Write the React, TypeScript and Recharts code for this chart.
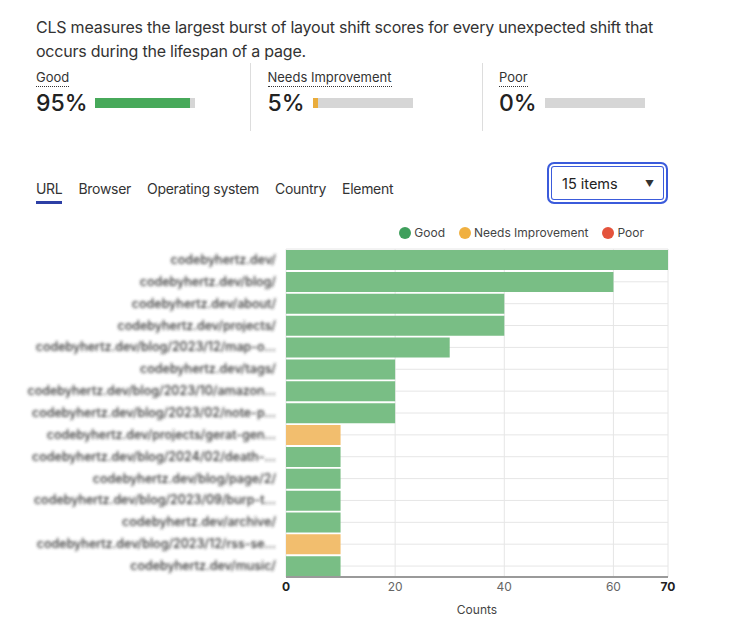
import { Bar, BarChart, CartesianGrid, Legend, XAxis, YAxis } from "recharts";

const urls = [
  "codebyhertz.dev/",
  "codebyhertz.dev/blog/",
  "codebyhertz.dev/about/",
  "codebyhertz.dev/projects/",
  "codebyhertz.dev/blog/2023/12/map-o…",
  "codebyhertz.dev/tags/",
  "codebyhertz.dev/blog/2023/10/amazon…",
  "codebyhertz.dev/blog/2023/02/note-p…",
  "codebyhertz.dev/projects/gerat-gen…",
  "codebyhertz.dev/blog/2024/02/death-…",
  "codebyhertz.dev/blog/page/2/",
  "codebyhertz.dev/blog/2023/09/burp-t…",
  "codebyhertz.dev/archive/",
  "codebyhertz.dev/blog/2023/12/rss-se…",
  "codebyhertz.dev/music/",
];
const goodCounts = [70, 60, 40, 40, 30, 20, 20, 20, 0, 10, 10, 10, 10, 0, 10];
const niCounts = [0, 0, 0, 0, 0, 0, 0, 0, 10, 0, 0, 0, 0, 10, 0];
const poorCounts = [0, 0, 0, 0, 0, 0, 0, 0, 0, 0, 0, 0, 0, 0, 0];
const xTicks = [0, 20, 40, 60, 70];

const summary = [
  { label: "Good", pct: 95, color: "#47a95a" },
  { label: "Needs Improvement", pct: 5, color: "#e9ac3c" },
  { label: "Poor", pct: 0, color: "#e4533c" },
];
const tabs = ["URL", "Browser", "Operating system", "Country", "Element"];

const series = [
  { key: "good", name: "Good", fill: "#79be85", dot: "#3f9f5c" },
  { key: "ni", name: "Needs Improvement", fill: "#f2be6e", dot: "#f0b040" },
  { key: "poor", name: "Poor", fill: "#ee7a66", dot: "#e4533c" },
];

const data = urls.map((url, i) => ({
  url,
  good: goodCounts[i],
  ni: niCounts[i],
  poor: poorCounts[i],
}));

const font = "Inter, sans-serif";

function UrlTick({ x, y, payload }: any) {
  return (
    <g filter="url(#blurLabel)">
      <text x={x - 2} y={y} dy={4} textAnchor="end" fontSize={12.5} fontWeight={500} fill="#333">
        {payload.value}
      </text>
    </g>
  );
}

function CountTick({ x, y, payload }: any) {
  const edge = payload.value === 0 || payload.value === 70;
  return (
    <text
      x={x}
      y={y}
      dy={6}
      textAnchor="middle"
      fontSize={12}
      fontWeight={edge ? 700 : 400}
      fill={edge ? "#222" : "#666"}
    >
      {payload.value}
    </text>
  );
}

function ChartLegend() {
  return (
    <div style={{ display: "flex", justifyContent: "flex-end", gap: 14, fontSize: 12, color: "#444", paddingRight: 24, paddingTop: 3 }}>
      {series.map((s) => (
        <span key={s.key} style={{ display: "inline-flex", alignItems: "center", gap: 3 }}>
          <span style={{ width: 12, height: 12, borderRadius: "50%", background: s.dot, display: "inline-block" }} />
          {s.name}
        </span>
      ))}
    </div>
  );
}

export default function App() {
  return (
    <div style={{ position: "absolute", left: 0, top: 0, width: 733, height: 621, background: "#fff", fontFamily: font, color: "#222" }}>
      <svg width={0} height={0} style={{ position: "absolute" }}>
        <defs>
          <filter id="blurLabel" x="-5%" y="-60%" width="110%" height="220%">
            <feGaussianBlur stdDeviation="1.8" />
          </filter>
        </defs>
      </svg>
      <p style={{ position: "absolute", left: 36, top: 15, width: 650, margin: 0, fontSize: 16, lineHeight: "24px", letterSpacing: -0.22, color: "#333" }}>
        CLS measures the largest burst of layout shift scores for every unexpected shift that occurs during the lifespan of a page.
      </p>
      {summary.map((s, i) => (
        <div key={s.label} style={{ position: "absolute", left: 36 + i * 231.5, top: 66, width: 200 }}>
          <span style={{ fontSize: 13, color: "#333", borderBottom: "1px dotted #333", lineHeight: "17px", display: "inline-block" }}>{s.label}</span>
          <div style={{ display: "flex", alignItems: "center", marginTop: 2 }}>
            <span style={{ fontSize: 23, fontWeight: 500, width: s.label === "Good" ? 59 : s.label === "Poor" ? 46 : 45 }}>{s.pct}%</span>
            <span style={{ width: 100, height: 10, background: "#d6d6d6", display: "inline-block", position: "relative" }}>
              <span style={{ position: "absolute", left: 0, top: 0, bottom: 0, width: s.pct, background: s.color }} />
            </span>
          </div>
        </div>
      ))}
      <div style={{ position: "absolute", left: 250, top: 63, width: 1, height: 68, background: "#ddd" }} />
      <div style={{ position: "absolute", left: 482, top: 63, width: 1, height: 68, background: "#ddd" }} />
      <div style={{ position: "absolute", left: 36, top: 180, display: "flex", gap: 16, fontSize: 14, letterSpacing: -0.3, color: "#333" }}>
        {tabs.map((t, i) => (
          <span key={t} style={{ paddingBottom: 4, borderBottom: i === 0 ? "3px solid #2d3fa5" : "3px solid transparent" }}>{t}</span>
        ))}
      </div>
      <div
        style={{
          position: "absolute",
          left: 547,
          top: 162,
          width: 92,
          height: 38,
          border: "2px solid #3b5bdb",
          borderRadius: 7,
          boxShadow: "inset 0 0 0 2px #fff, inset 0 0 0 3px #3b5bdb",
          display: "flex",
          alignItems: "center",
          justifyContent: "space-between",
          padding: "0 12px 0 13px",
          boxSizing: "content-box",
          fontSize: 14.5,
          color: "#222",
        }}
      >
        <span>15 items</span>
        <span style={{ fontSize: 9, color: "#333" }}>▼</span>
      </div>
      <div style={{ position: "absolute", left: 0, top: 222 }}>
        <BarChart
          width={700}
          height={399}
          data={data}
          layout="vertical"
          margin={{ top: 0, right: 32, bottom: 0, left: 0 }}
          barCategoryGap="5%"
          style={{ fontFamily: font }}
        >
          <Legend verticalAlign="top" align="right" height={27} content={<ChartLegend />} />
          <CartesianGrid stroke="#e6e6e6" />
          <XAxis
            type="number"
            domain={[0, 70]}
            ticks={xTicks}
            interval={0}
            tickLine={false}
            axisLine={{ stroke: "#9a9a9a", strokeWidth: 2 }}
            tick={<CountTick />}
            height={44}
            label={{ value: "Counts", position: "insideBottom", offset: 7, fontSize: 12, fill: "#444" }}
          />
          <YAxis type="category" dataKey="url" width={286} tickLine={false} axisLine={false} tick={<UrlTick />} interval={0} />
          {series.map((s) => (
            <Bar key={s.key} dataKey={s.key} name={s.name} stackId="a" fill={s.fill} isAnimationActive={false} />
          ))}
        </BarChart>
      </div>
    </div>
  );
}
